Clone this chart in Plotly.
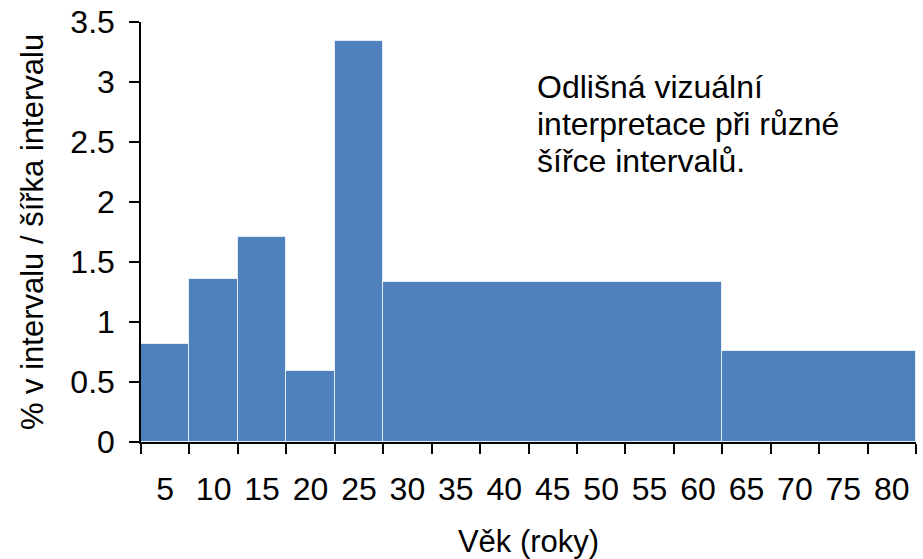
import plotly.graph_objects as go

# Data
bin_edges = [0, 5, 10, 15, 20, 25, 60, 80]
density = [0.82, 1.36, 1.71, 0.59, 3.34, 1.33, 0.76]
tick_labels = ["5", "10", "15", "20", "25", "30", "35", "40", "45", "50",
               "55", "60", "65", "70", "75", "80"]
tick_bounds = list(range(0, 81, 5))
y_ticks = [0, 0.5, 1, 1.5, 2, 2.5, 3, 3.5]
y_tick_labels = ["0", "0.5", "1", "1.5", "2", "2.5", "3", "3.5"]
annotation_lines = ["Odlišná vizuální", "interpretace při různé", "šířce intervalů."]

centers = [(a + b) / 2 for a, b in zip(bin_edges[:-1], bin_edges[1:])]
widths = [b - a for a, b in zip(bin_edges[:-1], bin_edges[1:])]
label_pos = [(a + b) / 2 for a, b in zip(tick_bounds[:-1], tick_bounds[1:])]

FONT = "Liberation Sans, Arial, sans-serif"

fig = go.Figure()
fig.add_trace(go.Bar(
    x=centers, y=density, width=widths,
    marker=dict(color="#4F81BD", line=dict(color="#E6EDF6", width=1)),
    hoverinfo="x+y",
))

fig.update_layout(
    width=923, height=559,
    margin=dict(l=141, r=7, t=22, b=117, autoexpand=False),
    plot_bgcolor="white", paper_bgcolor="white",
    showlegend=False,
    font=dict(family=FONT, size=32, color="black"),
    bargap=0,
    xaxis=dict(
        range=[0, 80], automargin=False,
        tickvals=label_pos, ticktext=tick_labels,
        ticks="", showgrid=False, zeroline=False,
        showline=True, linecolor="black", linewidth=1.5,
        ticklabelstandoff=18,
        tickfont=dict(size=32),
        minor=dict(tickvals=tick_bounds, ticks="outside", ticklen=10,
                   tickcolor="black", tickwidth=1.5, showgrid=False),
        title=dict(text="Věk (roky)", font=dict(size=31), standoff=24),
    ),
    yaxis=dict(
        range=[0, 3.5], automargin=False,
        tickvals=y_ticks, ticktext=y_tick_labels,
        ticks="outside", ticklen=10, tickcolor="black", tickwidth=1.5,
        showgrid=False, zeroline=False,
        showline=True, linecolor="black", linewidth=1.5,
        ticklabelstandoff=8,
        tickfont=dict(size=32),
        title=dict(text="% v intervalu / šířka intervalu", font=dict(size=31), standoff=18),
    ),
)

for i, line in enumerate(annotation_lines):
    fig.add_annotation(
        xref="paper", yref="paper",
        x=(535 - 141) / 775, y=1 - (67 + 37 * i - 22) / 420,
        xanchor="left", yanchor="top",
        text=line, showarrow=False, align="left",
        font=dict(family=FONT, size=32, color="black"),
    )

fig.write_html("out.html", config={"displayModeBar": False},
               post_script="document.body.style.margin='0';")
